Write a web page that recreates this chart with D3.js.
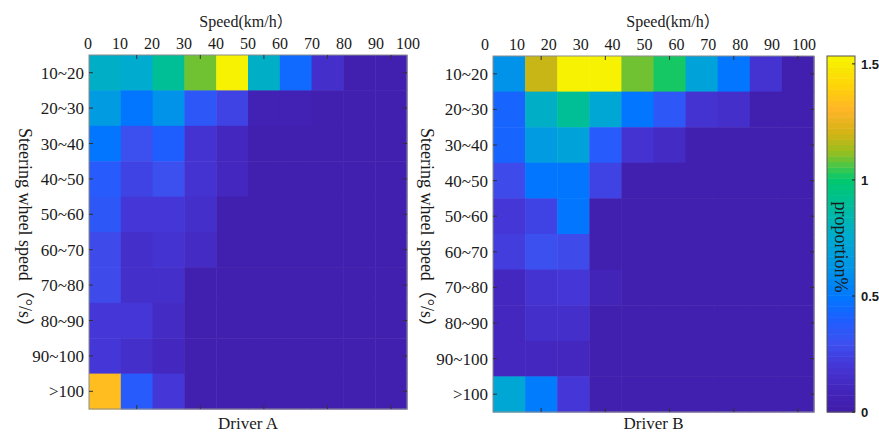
<!DOCTYPE html>
<html>
<head>
<meta charset="utf-8">
<script src="https://cdn.jsdelivr.net/npm/d3@7"></script>
<style>
  body { margin: 0; background: #fff; }
  text { font-family: "Liberation Serif", "Times New Roman", "Noto Sans CJK SC", serif; fill: #1a1a1a; }
  .cb-label { font-family: "Liberation Sans", Arial, sans-serif; font-weight: bold; font-size: 13px; }
</style>
</head>
<body>
<svg id="chart" width="879" height="432"></svg>
<script>
// speed bins (columns) and steering wheel speed bins (rows)
const speedTicks = [0, 10, 20, 30, 40, 50, 60, 70, 80, 90, 100];
const speedBins = ['0-10', '10-20', '20-30', '30-40', '40-50', '50-60', '60-70', '70-80', '80-90', '90-100'];
const steerBins = ['10~20', '20~30', '30~40', '40~50', '50~60', '60~70', '70~80', '80~90', '90~100', '>100'];

// proportion % per cell, one row per steering bin
const driverA = [
  [0.78, 0.76, 0.90, 1.10, 1.53, 0.78, 0.45, 0.15, 0.03, 0.03],
  [0.65, 0.48, 0.60, 0.35, 0.25, 0.06, 0.06, 0.04, 0.03, 0.03],
  [0.48, 0.30, 0.40, 0.18, 0.10, 0.04, 0.04, 0.04, 0.03, 0.03],
  [0.37, 0.24, 0.30, 0.17, 0.10, 0.03, 0.03, 0.03, 0.03, 0.03],
  [0.35, 0.20, 0.20, 0.15, 0.03, 0.03, 0.03, 0.03, 0.03, 0.03],
  [0.28, 0.15, 0.18, 0.13, 0.03, 0.03, 0.03, 0.03, 0.03, 0.03],
  [0.27, 0.15, 0.15, 0.03, 0.03, 0.03, 0.03, 0.03, 0.03, 0.03],
  [0.20, 0.20, 0.13, 0.03, 0.03, 0.03, 0.03, 0.03, 0.03, 0.03],
  [0.20, 0.16, 0.10, 0.03, 0.03, 0.03, 0.03, 0.03, 0.03, 0.03],
  [1.32, 0.36, 0.20, 0.03, 0.03, 0.03, 0.03, 0.03, 0.03, 0.03]
];
const driverB = [
  [0.60, 1.18, 1.53, 1.53, 1.10, 1.02, 0.70, 0.48, 0.18, 0.03],
  [0.42, 0.77, 0.90, 0.74, 0.48, 0.35, 0.17, 0.15, 0.03, 0.03],
  [0.42, 0.65, 0.70, 0.38, 0.17, 0.14, 0.03, 0.03, 0.03, 0.03],
  [0.28, 0.48, 0.48, 0.26, 0.03, 0.03, 0.03, 0.03, 0.03, 0.03],
  [0.20, 0.26, 0.50, 0.04, 0.03, 0.03, 0.03, 0.03, 0.03, 0.03],
  [0.22, 0.30, 0.28, 0.04, 0.03, 0.03, 0.03, 0.03, 0.03, 0.03],
  [0.10, 0.17, 0.21, 0.08, 0.03, 0.03, 0.03, 0.03, 0.03, 0.03],
  [0.10, 0.15, 0.15, 0.03, 0.03, 0.03, 0.03, 0.03, 0.03, 0.03],
  [0.10, 0.10, 0.10, 0.03, 0.03, 0.03, 0.03, 0.03, 0.03, 0.03],
  [0.74, 0.52, 0.20, 0.03, 0.03, 0.03, 0.03, 0.03, 0.03, 0.03]
];
const colorTicks = [0, 0.5, 1, 1.5];
const colorMax = 1.534;

// parula-like palette as it appears in the picture
const paletteStops = [0, 0.1, 0.2, 0.3, 0.4, 0.5, 0.6, 0.75, 0.85, 1.0, 1.05, 1.12, 1.2, 1.3, 1.4, 1.534];
const paletteColors = ['#401ca8', '#4426bc', '#4536d6', '#3c50f0', '#1e5fff', '#0078ff', '#0091eb', '#00aad2',
  '#00b9aa', '#00c86e', '#3cc850', '#96be1e', '#d2b414', '#ffb428', '#ffd20a', '#f5f500'];

const smooth = d3.scaleLinear().domain(paletteStops).range(paletteColors).clamp(true);
// 64 level colormap like MATLAB
const color = v => {
  const i = Math.min(63, Math.floor(v / colorMax * 64));
  return smooth((i + 0.5) / 64 * colorMax);
};

const svg = d3.select('#chart');

function drawPanel(cfg) {
  const x = d3.scaleBand().domain(speedBins).range([cfg.left, cfg.right]);
  const y = d3.scaleBand().domain(steerBins).range([cfg.top, cfg.bottom]);
  const g = svg.append('g');

  steerBins.forEach((row, ri) => {
    g.selectAll(null)
      .data(cfg.data[ri])
      .enter()
      .append('rect')
      .attr('x', (d, ci) => x(speedBins[ci]))
      .attr('y', y(row))
      .attr('width', x.bandwidth() + 0.5)
      .attr('height', y.bandwidth() + 0.5)
      .attr('fill', d => color(d));
  });

  // box
  g.append('rect')
    .attr('x', cfg.left).attr('y', cfg.top)
    .attr('width', cfg.right - cfg.left).attr('height', cfg.bottom - cfg.top)
    .attr('fill', 'none').attr('stroke', '#8c8c8c').attr('stroke-width', 1);

  // tick marks at every second column centre, top and bottom
  const markCols = speedBins.filter((d, i) => i % 2 === 1);
  markCols.forEach((c) => {
    const cx = x(c) + x.bandwidth() / 2;
    g.append('line').attr('x1', cx).attr('x2', cx).attr('y1', cfg.top).attr('y2', cfg.top + 4)
      .attr('stroke', '#333');
    g.append('line').attr('x1', cx).attr('x2', cx).attr('y1', cfg.bottom).attr('y2', cfg.bottom - 4)
      .attr('stroke', '#333');
  });
  steerBins.forEach((r) => {
    const cy = y(r) + y.bandwidth() / 2;
    g.append('line').attr('x1', cfg.left).attr('x2', cfg.left + 4).attr('y1', cy).attr('y2', cy)
      .attr('stroke', '#333');
    g.append('line').attr('x1', cfg.right).attr('x2', cfg.right - 4).attr('y1', cy).attr('y2', cy)
      .attr('stroke', '#333');
  });

  // speed labels on top
  const sx = d3.scaleLinear().domain([0, 100]).range(cfg.tickRange);
  g.selectAll(null)
    .data(speedTicks)
    .enter()
    .append('text')
    .attr('x', d => sx(d))
    .attr('y', cfg.top - 6)
    .attr('text-anchor', 'middle')
    .attr('font-size', 16)
    .text(d => d);

  g.append('text')
    .attr('x', cfg.titleX).attr('y', 27)
    .attr('text-anchor', 'middle').attr('font-size', 16)
    .text('Speed(km/h）');

  // row labels
  g.selectAll(null)
    .data(steerBins)
    .enter()
    .append('text')
    .attr('x', cfg.left - 5)
    .attr('y', d => y(d) + y.bandwidth() / 2 + 6)
    .attr('text-anchor', 'end')
    .attr('font-size', 17)
    .text(d => d);

  g.append('text')
    .attr('transform', `translate(${cfg.yTitleX},232) rotate(90)`)
    .attr('text-anchor', 'middle').attr('font-size', 18)
    .attr('fill', '#333')
    .text('Steering wheel speed（°/s）');

  g.append('text')
    .attr('x', (cfg.left + cfg.right) / 2).attr('y', 429)
    .attr('text-anchor', 'middle').attr('font-size', 17)
    .text(cfg.name);
}

drawPanel({
  data: driverA, name: 'Driver A',
  left: 89, right: 407, top: 55, bottom: 409,
  tickRange: [88, 408], titleX: 246, yTitleX: 19
});
drawPanel({
  data: driverB, name: 'Driver B',
  left: 493, right: 814, top: 56, bottom: 412,
  tickRange: [485, 804], titleX: 673, yTitleX: 421
});

// colour bar
const cb = { left: 827, right: 855, top: 56, bottom: 412 };
const cy = d3.scaleLinear().domain([0, colorMax]).range([cb.bottom, cb.top]);
const levels = d3.range(64);
svg.append('g').selectAll('rect')
  .data(levels)
  .enter()
  .append('rect')
  .attr('x', cb.left)
  .attr('y', d => cy((d + 1) / 64 * colorMax))
  .attr('width', cb.right - cb.left)
  .attr('height', cy(0) - cy(colorMax / 64) + 0.5)
  .attr('fill', d => color((d + 0.5) / 64 * colorMax));
svg.append('rect')
  .attr('x', cb.left).attr('y', cb.top)
  .attr('width', cb.right - cb.left).attr('height', cb.bottom - cb.top)
  .attr('fill', 'none').attr('stroke', '#555');

colorTicks.forEach((t) => {
  svg.append('line').attr('x1', cb.right).attr('x2', cb.right - 3)
    .attr('y1', cy(t)).attr('y2', cy(t)).attr('stroke', '#222');
  svg.append('text')
    .attr('class', 'cb-label')
    .attr('x', cb.right + 6)
    .attr('y', cy(t) + 5)
    .text(t);
});

svg.append('text')
  .attr('transform', `translate(${(cb.left + cb.right) / 2 - 6},247) rotate(90)`)
  .attr('text-anchor', 'middle').attr('font-size', 18)
  .text('proportion%');
</script>
</body>
</html>
